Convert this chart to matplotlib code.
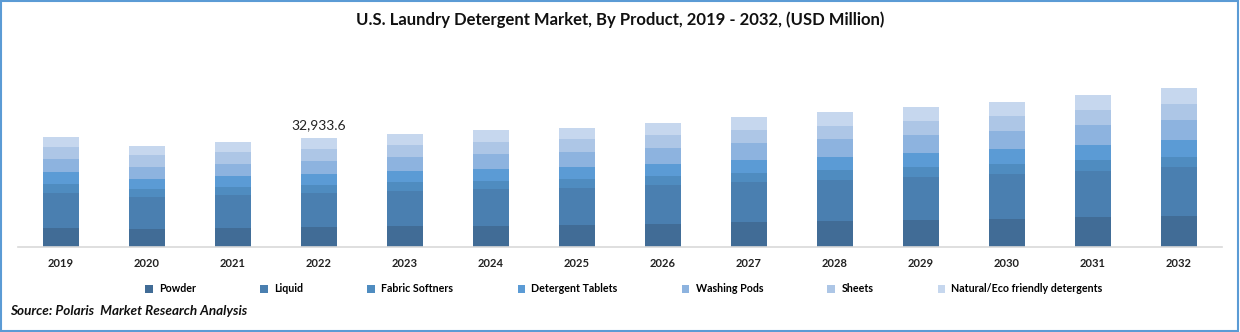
import matplotlib
matplotlib.use('Agg')
import matplotlib.pyplot as plt
from matplotlib.patches import Rectangle, Patch
import numpy as np

plt.rcParams['font.family'] = ['Lato', 'DejaVu Sans']

years = ['2019', '2020', '2021', '2022', '2023', '2024', '2025',
         '2026', '2027', '2028', '2029', '2030', '2031', '2032']
segments = ['Powder', 'Liquid', 'Fabric Softners', 'Detergent Tablets',
            'Washing Pods', 'Sheets', 'Natural/Eco friendly detergents']

# USD million
powder = [5740, 5440, 5750, 6045.2, 6330, 6400, 6650, 6950, 7520, 7850, 8150, 8460, 9050, 9380]
liquid = [10560, 9670, 9980, 10271.4, 10600, 11050, 11250, 11750, 12100, 12450, 12950, 13550, 13950, 14700]
fabric = [2700, 2420, 2470, 2418.7, 2650, 2560, 2700, 2750, 2800, 2850, 2950, 3050, 3200, 3150]
tablets = [3600, 3050, 3300, 3320.5, 3400, 3600, 3650, 3700, 3950, 4150, 4250, 4450, 4600, 5050]
pods = [3950, 3600, 3700, 3929.8, 4200, 4450, 4550, 4800, 5050, 5200, 5400, 5550, 5950, 6100]
sheets = [3600, 3550, 3600, 3621.3, 3650, 3700, 3850, 3950, 4050, 4150, 4300, 4450, 4600, 4800]
natural = [3100, 2800, 3000, 3326.7, 3350, 3500, 3450, 3650, 3850, 4000, 4150, 4300, 4500, 4750]

colors = ['#416c96', '#4a7fb0', '#4f8cc0', '#5b9bd5', '#8db3df', '#adc6e6', '#c6d7ee']
series = [powder, liquid, fabric, tablets, pods, sheets, natural]

fig = plt.figure(figsize=(12.4, 3.32), dpi=100)
ax = fig.add_axes([18/1240, 1 - 247/332, 1204/1240, 187/332])

x = np.arange(len(years))
bottom = np.zeros(len(years))
for vals, col, name in zip(series, colors, segments):
    ax.bar(x, vals, 0.41, bottom=bottom, color=col, label=name, linewidth=0)
    bottom += np.array(vals)

# label for 2022
i = years.index('2022')
ax.annotate(f'{bottom[i]:,.1f}', (x[i], bottom[i]), xytext=(0, 5),
            textcoords='offset points', ha='center', va='bottom',
            fontsize=10, color='#222222')

ax.set_xlim(-0.5, len(years) - 0.5)
ax.set_ylim(0, 187 * 32933.6 / 109)
ax.set_xticks(x)
ax.set_xticklabels(years, fontsize=8, fontweight='bold', color='#222222')
ax.tick_params(axis='x', length=0, pad=8)
ax.set_yticks([])
for s in ['top', 'right', 'left']:
    ax.spines[s].set_visible(False)
ax.spines['bottom'].set_color('#d9d9d9')
ax.spines['bottom'].set_linewidth(1.2)

fig.text(0.5, 1 - 20/332, 'U.S. Laundry Detergent Market, By Product, 2019 - 2032, (USD Million)',
         ha='center', va='center', fontsize=12, fontweight='bold', color='#111111')

handles = [Patch(facecolor=c, edgecolor='none') for c in colors]
fig.legend(handles, segments, loc='center', bbox_to_anchor=(624/1240, 1 - 289/332),
           ncol=7, frameon=False, handlelength=0.7, handleheight=0.7,
           handletextpad=0.6, columnspacing=6.0, prop={'weight': 'bold', 'size': 7.7})

fig.text(10/1240, 1 - 311/332, 'Source: Polaris  Market Research Analysis',
         ha='left', va='center', fontsize=9.7, fontweight='bold', style='italic', color='#111111')

fig.patches.append(Rectangle((0.001, 0.002), 0.997, 0.995, transform=fig.transFigure,
                             fill=False, edgecolor='#5b9bd5', linewidth=1.5))

fig.savefig('out.png', dpi=100)
